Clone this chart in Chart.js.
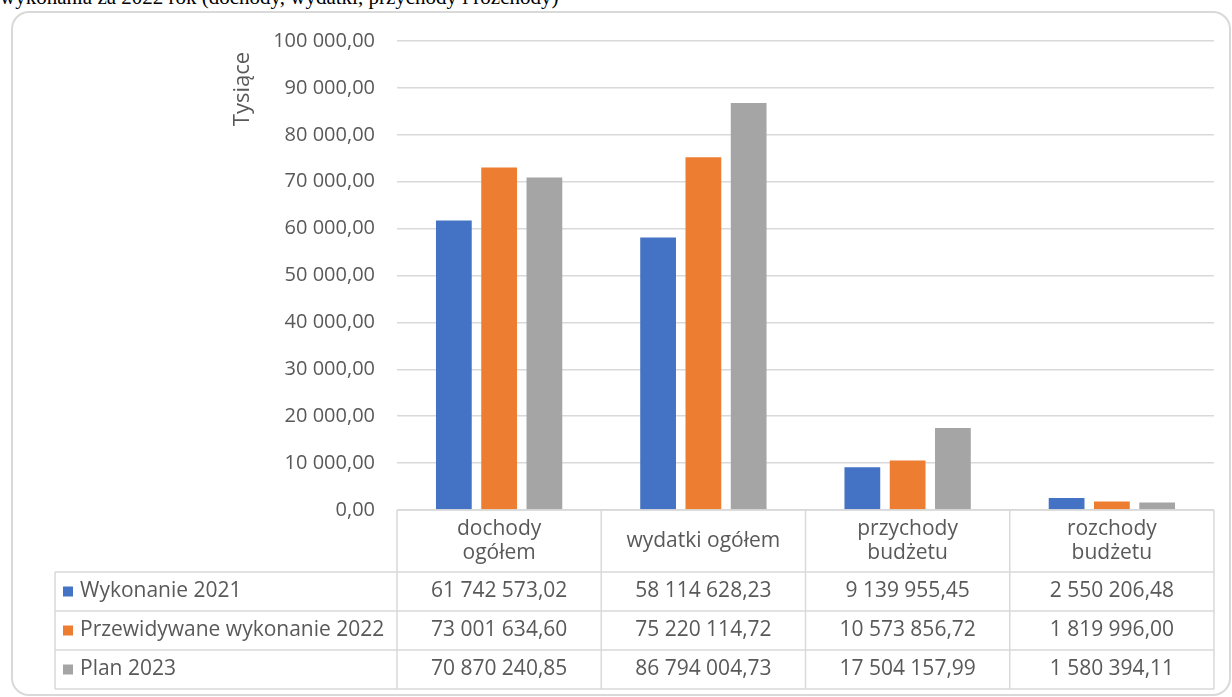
<!DOCTYPE html>
<html lang="pl">
<head>
<meta charset="utf-8">
<title>Wykonanie 2021, przewidywane wykonanie 2022, plan 2023</title>
<script src="https://cdn.jsdelivr.net/npm/chart.js@4.4.1/dist/chart.umd.min.js"></script>
<style>
  html, body { margin: 0; padding: 0; background: #fff; overflow: hidden; }
  #caption {
    position: absolute; left: 0; top: -13px;
    font-family: 'Liberation Serif', 'Times New Roman', serif;
    font-size: 21px; line-height: 21px; color: #000; white-space: nowrap;
  }
  #panel {
    position: absolute; left: 11px; top: 11px; width: 1216px; height: 681px;
    border: 2px solid #d9d9d9; border-radius: 18px;
  }
  #wrap { position: absolute; left: 0; top: 0; width: 1232px; height: 697px; }
</style>
</head>
<body>
<div id="caption">wykonania za 2022 rok (dochody, wydatki, przychody i rozchody)</div>
<div id="panel"></div>
<div id="wrap"><canvas id="myChart"></canvas></div>
<script>
// Categories (header lines of the data table)
let aCategories = [
    ['dochody', 'ogółem'],
    ['wydatki ogółem'],
    ['przychody', 'budżetu'],
    ['rozchody', 'budżetu']
];

// Series names
let aSeriesNames = ['Wykonanie 2021', 'Przewidywane wykonanie 2022', 'Plan 2023'];

// Values in PLN (shown in table, bars drawn in thousands)
let aWykonanie2021 = [61742573.02, 58114628.23, 9139955.45, 2550206.48];
let aPrzewidywane2022 = [73001634.60, 75220114.72, 10573856.72, 1819996.00];
let aPlan2023 = [70870240.85, 86794004.73, 17504157.99, 1580394.11];

// Y axis ticks (thousands)
let yMin = 0;
let yMax = 100000;
let yStep = 10000;

const aColors = ['#4472C4', '#ED7D31', '#A5A5A5'];
const textColor = '#595959';
const lineColor = '#d9d9d9';
const fontFamily = "'Open Sans', 'Noto Sans', sans-serif";
const fontSize = 20;
const tableFontSize = 21;

// number like "61 742 573,02"
function fmtNum(v) {
    let parts = v.toFixed(2).split('.');
    parts[0] = parts[0].replace(/\B(?=(\d{3})+(?!\d))/g, ' ');
    return parts.join(',');
}

const aSeries = [aWykonanie2021, aPrzewidywane2022, aPlan2023];

// Axis title + data table under the plot (Excel style)
const dataTablePlugin = {
    id: 'dataTable',
    afterDraw(chart) {
        const ctx = chart.ctx;
        const xs = chart.scales.x;
        const area = chart.chartArea;
        const n = aCategories.length;
        const colW = (area.right - area.left) / n;
        const headTop = area.bottom;
        const headBottom = area.bottom + 62;
        const rowH = 39;
        const tableLeft = 55;
        const tableBottom = headBottom + rowH * aSeries.length;

        ctx.save();
        // y axis title, placed at the top like Excel does
        ctx.fillStyle = textColor;
        ctx.font = '22px ' + fontFamily;
        ctx.textAlign = 'center';
        ctx.textBaseline = 'middle';
        ctx.translate(243, 89);
        ctx.rotate(-Math.PI / 2);
        ctx.fillText('Tysiące', 0, 0);
        ctx.restore();

        ctx.save();
        ctx.strokeStyle = lineColor;
        ctx.lineWidth = 1.5;
        ctx.beginPath();
        // horizontal lines
        ctx.moveTo(area.left, headTop); ctx.lineTo(area.right, headTop);
        for (let r = 0; r <= aSeries.length; r++) {
            let y = headBottom + r * rowH;
            ctx.moveTo(tableLeft, y); ctx.lineTo(area.right, y);
        }
        // vertical lines
        for (let c = 0; c <= n; c++) {
            let x = area.left + c * colW;
            ctx.moveTo(x, headTop); ctx.lineTo(x, tableBottom);
        }
        ctx.moveTo(tableLeft, headBottom); ctx.lineTo(tableLeft, tableBottom);
        ctx.stroke();

        ctx.fillStyle = textColor;
        ctx.font = tableFontSize + 'px ' + fontFamily;
        ctx.textAlign = 'center';
        ctx.textBaseline = 'middle';

        // header
        aCategories.forEach((lines, i) => {
            const cx = xs.getPixelForValue(i);
            const midY = (headTop + headBottom) / 2;
            const lh = 24;
            lines.forEach((t, k) => {
                ctx.fillText(t, cx, midY + (k - (lines.length - 1) / 2) * lh);
            });
        });

        // rows
        aSeries.forEach((vals, r) => {
            const cy = headBottom + r * rowH + rowH / 2;
            ctx.fillStyle = aColors[r];
            ctx.fillRect(63, cy - 5, 10, 10);
            ctx.fillStyle = textColor;
            ctx.textAlign = 'left';
            ctx.fillText(aSeriesNames[r], 80, cy);
            ctx.textAlign = 'center';
            vals.forEach((v, i) => {
                ctx.fillText(fmtNum(v), xs.getPixelForValue(i), cy);
            });
        });
        ctx.restore();
    }
};

const ctx = document.getElementById('myChart').getContext('2d');
const myChart = new Chart(ctx, {
    type: 'bar',
    data: {
        labels: aCategories.map(l => l.join(' ')),
        datasets: aSeries.map((vals, i) => ({
            label: aSeriesNames[i],
            data: vals.map(v => v / 1000),
            backgroundColor: aColors[i],
            borderWidth: 0,
            categoryPercentage: 0.665,
            barPercentage: 0.79
        }))
    },
    options: {
        responsive: true,
        maintainAspectRatio: false,
        animation: false,
        layout: {
            padding: { left: 232, right: 18, top: 41, bottom: 187 }
        },
        scales: {
            x: { display: false },
            y: {
                min: yMin,
                max: yMax,
                afterFit: scale => { scale.width = 165; },
                ticks: {
                    stepSize: yStep,
                    padding: 22,
                    color: textColor,
                    font: { family: fontFamily, size: fontSize },
                    callback: v => fmtNum(v)
                },
                grid: { color: lineColor, lineWidth: 1.5, drawTicks: false },
                border: { display: false }
            }
        },
        plugins: {
            legend: { display: false },
            tooltip: { enabled: false }
        }
    },
    plugins: [dataTablePlugin]
});
</script>
</body>
</html>
